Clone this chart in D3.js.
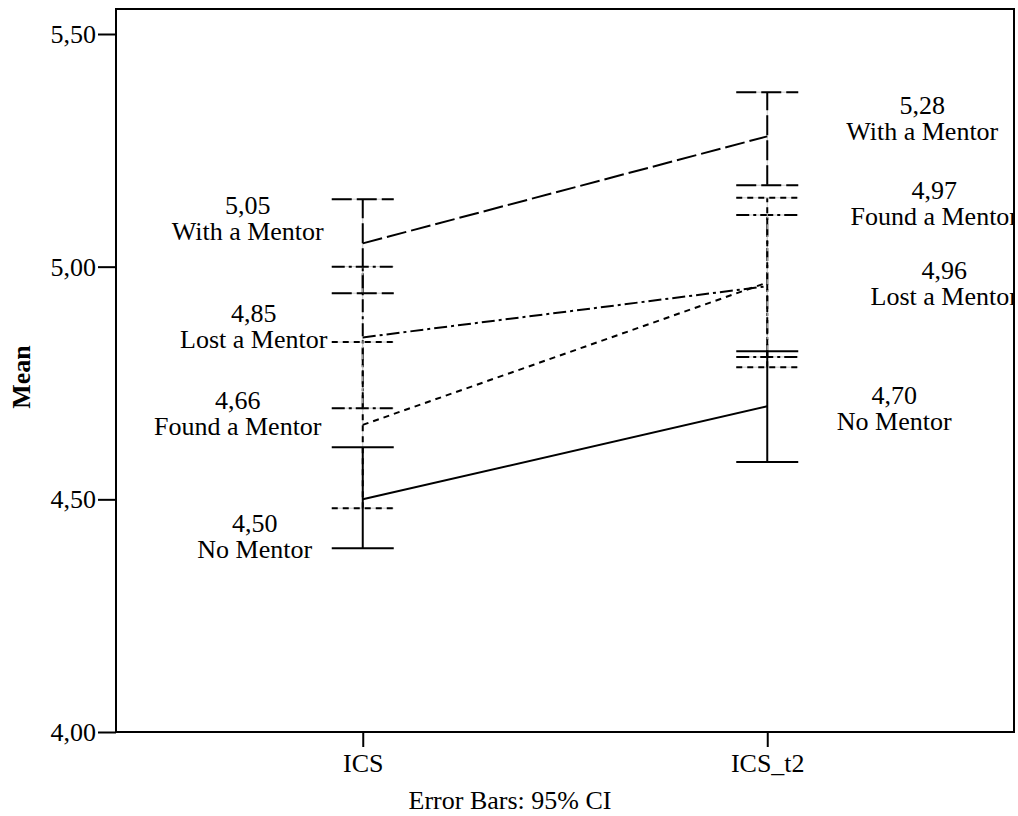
<!DOCTYPE html>
<html>
<head>
<meta charset="utf-8">
<script src="https://cdn.jsdelivr.net/npm/d3@7"></script>
<style>
  html, body { margin: 0; padding: 0; background: #fff; }
  svg { display: block; }
  text { font-family: "Liberation Serif", "Times New Roman", serif; fill: #000; }
</style>
</head>
<body>
<svg id="chart" width="1018" height="816"></svg>
<script>
// ---- data ----
const categories = ["ICS", "ICS_t2"];
const series = ["With a Mentor", "Lost a Mentor", "Found a Mentor", "No Mentor"];
const meanICS = [5.05, 4.848, 4.66, 4.50];
const meanT2  = [5.28, 4.958, 4.966, 4.70];
const lowICS  = [4.943, 4.696, 4.481, 4.395];
const highICS = [5.145, 5.000, 4.838, 4.612];
const lowT2   = [5.175, 4.806, 4.784, 4.580];
const highT2  = [5.375, 5.111, 5.148, 4.818];
const yTicks = [4.0, 4.5, 5.0, 5.5];
const footnote = "Error Bars: 95% CI";
const yTitle = "Mean";

// ---- layout / style (not data) ----
const dashes = ["20,5", "13,4,3,4", "6,5", null];
// label block offsets (px) from each point: [dx of centre, dy of 2nd line centre]
const labelOffICS = [[-115, -11], [-109, 3], [-125, 2], [-108, 51]];
const labelOffT2  = [[155, -4], [177, 11], [167, -65], [127, 16]];

const frame = { left: 116, right: 1014, top: 9, bottom: 732 };
const fs = 26;

const svg = d3.select("#chart");
const x = d3.scalePoint().domain(categories).range([frame.left, frame.right]).padding(0.61);
const y = d3.scaleLinear().domain([4, 5.5]).range([frame.bottom, 34]);

const fmt = v => d3.format(".2f")(v).replace(".", ",");

svg.append("defs").append("clipPath").attr("id", "plotclip")
  .append("rect").attr("x", frame.left).attr("y", frame.top)
  .attr("width", frame.right - frame.left).attr("height", frame.bottom - frame.top);

const plot = svg.append("g").attr("clip-path", "url(#plotclip)");

const rows = series.map((s, i) => ({
  name: s, i,
  pts: [
    { c: categories[0], m: meanICS[i], lo: lowICS[i], hi: highICS[i], off: labelOffICS[i] },
    { c: categories[1], m: meanT2[i],  lo: lowT2[i],  hi: highT2[i],  off: labelOffT2[i] }
  ]
}));

function styled(sel, i) {
  sel.attr("stroke", "#000").attr("stroke-width", 2).attr("fill", "none");
  if (dashes[i]) sel.attr("stroke-dasharray", dashes[i]);
  return sel;
}
function faint(sel) {
  sel.attr("stroke", "#c8c8c8").attr("stroke-width", 1).attr("fill", "none");
  return sel;
}

const capHalf = 31;
// error bars
rows.forEach(r => {
  r.pts.forEach(p => {
    const cx = x(p.c);
    const segs = [
      [cx, y(p.lo), cx, y(p.hi)],
      [cx - capHalf, y(p.lo), cx + capHalf, y(p.lo)],
      [cx - capHalf, y(p.hi), cx + capHalf, y(p.hi)]
    ];
    segs.forEach(s => {
      if (dashes[r.i]) {
        plot.append("line").attr("x1", s[0]).attr("y1", s[1]).attr("x2", s[2]).attr("y2", s[3]).call(faint);
      }
      plot.append("line").attr("x1", s[0]).attr("y1", s[1]).attr("x2", s[2]).attr("y2", s[3]).call(styled, r.i);
    });
  });
});

// mean lines
const line = d3.line().x(d => x(d.c)).y(d => y(d.m));
rows.forEach(r => {
  plot.append("path").attr("d", line(r.pts)).call(styled, r.i);
});

// labels
rows.forEach(r => {
  r.pts.forEach(p => {
    const cx = x(p.c) + p.off[0];
    const cy = y(p.m) + p.off[1];
    const t = plot.append("text").attr("text-anchor", "middle").attr("font-size", fs);
    t.append("tspan").attr("x", cx).attr("y", cy + 8 - 26).text(fmt(p.m));
    t.append("tspan").attr("x", cx).attr("y", cy + 8).text(r.name);
  });
});

// frame
svg.append("rect").attr("x", frame.left).attr("y", frame.top)
  .attr("width", frame.right - frame.left).attr("height", frame.bottom - frame.top)
  .attr("fill", "none").attr("stroke", "#000").attr("stroke-width", 2);

// y axis
const yAxis = svg.append("g").attr("transform", `translate(${frame.left},0)`)
  .call(d3.axisLeft(y).tickValues(yTicks).tickFormat(fmt).tickSize(18).tickPadding(2));
yAxis.select(".domain").remove();
yAxis.selectAll(".tick line").attr("stroke", "#000").attr("stroke-width", 2);
yAxis.selectAll(".tick text").attr("font-size", fs).attr("font-family", "Liberation Serif").attr("dy", "0.33em");

// x axis
const xAxis = svg.append("g").attr("transform", `translate(0,${frame.bottom})`)
  .call(d3.axisBottom(x).tickSize(15).tickPadding(7));
xAxis.select(".domain").remove();
xAxis.selectAll(".tick line").attr("stroke", "#000").attr("stroke-width", 2);
xAxis.selectAll(".tick text").attr("font-size", fs).attr("font-family", "Liberation Serif");

// titles
svg.append("text").attr("transform", "translate(30,377) rotate(-90)")
  .attr("text-anchor", "middle").attr("font-size", 26).attr("font-weight", "bold").text(yTitle);
svg.append("text").attr("x", 510).attr("y", 809).attr("text-anchor", "middle")
  .attr("font-size", fs).text(footnote);
</script>
</body>
</html>
